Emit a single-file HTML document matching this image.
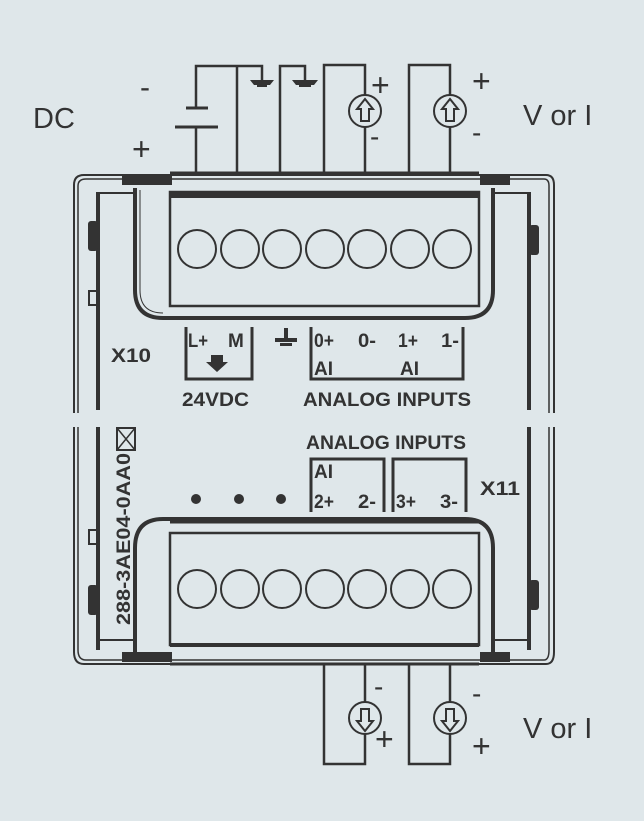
<!DOCTYPE html>
<html><head><style>
html,body{margin:0;padding:0;background:#dfe7ea;}
svg{display:block}
.t{font-family:"Liberation Sans",sans-serif;fill:#333;}
.b{font-family:"Liberation Sans",sans-serif;font-weight:bold;fill:#333;}
</style></head><body>
<svg width="644" height="821" viewBox="0 0 644 821" xmlns="http://www.w3.org/2000/svg">
<rect width="644" height="821" fill="#dfe7ea"/>
<g stroke="#333" fill="none" stroke-width="2.5">
<polyline points="196,108 196,66 262,66 262,82"/>
<line x1="237" y1="66" x2="237" y2="173"/>
<line x1="196" y1="127" x2="196" y2="173"/>
<polyline points="280,173 280,66 305,66 305,82"/>
<polyline points="324,173 324,65 365,65 365,95"/>
<line x1="365" y1="127" x2="365" y2="173"/>
<polyline points="409,173 409,65 450,65 450,95"/>
<line x1="450" y1="127" x2="450" y2="173"/>
<line x1="186" y1="108" x2="208" y2="108" stroke-width="3"/>
<line x1="175" y1="127" x2="218" y2="127" stroke-width="3"/>
<circle cx="365" cy="111" r="16" stroke-width="2"/>
<circle cx="450" cy="111" r="16" stroke-width="2"/>
<polyline points="324,665 324,764 365,764 365,734"/>
<line x1="365" y1="702" x2="365" y2="665"/>
<polyline points="409,665 409,764 450,764 450,734"/>
<line x1="450" y1="702" x2="450" y2="665"/>
<circle cx="365" cy="718" r="16" stroke-width="2"/>
<circle cx="450" cy="718" r="16" stroke-width="2"/>
</g>
<g fill="#333">
<path d="M250,80 h24 l-4,5 h-16z"/><rect x="257" y="84" width="10" height="3"/>
<path d="M292,80 h26 l-4,5 h-18z"/><rect x="299" y="84" width="12" height="3"/>
</g>
<g fill="#dfe7ea" stroke="#333" stroke-width="2">
<path d="M365,99 l-8,10 h4 v12 h8 v-12 h4z"/>
<path d="M450,99 l-8,10 h4 v12 h8 v-12 h4z"/>
<path d="M365,731 l-8,-10 h4 v-12 h8 v12 h4z"/>
<path d="M450,731 l-8,-10 h4 v-12 h8 v12 h4z"/>
</g>
<g class="t">
<text x="33" y="128" font-size="29">DC</text>
<text x="140" y="97" font-size="30">-</text>
<text x="132" y="160" font-size="32">+</text>
<text x="371" y="96" font-size="32">+</text>
<text x="370" y="146" font-size="28">-</text>
<text x="472" y="92" font-size="32">+</text>
<text x="472" y="142" font-size="28">-</text>
<text x="523" y="125" font-size="29">V or I</text>
<text x="374" y="696" font-size="28">-</text>
<text x="375" y="750" font-size="32">+</text>
<text x="472" y="703" font-size="28">-</text>
<text x="472" y="757" font-size="32">+</text>
<text x="523" y="738" font-size="29">V or I</text>
</g>
<g stroke="#333" fill="none">
<path d="M74,413 V185 Q74,175 84,175 H546 Q554,175 554,185 V413" stroke-width="2"/>
<path d="M78,413 V186 Q78,179 86,179 H544 Q549,179 549,186 V413" stroke-width="1.5"/>
<path d="M74,427 V652 Q74,664 84,664 H546 Q554,664 554,652 V427" stroke-width="2"/>
<path d="M78,427 V650 Q78,660 86,660 H544 Q549,660 549,650 V427" stroke-width="1.5"/>
<line x1="98" y1="192" x2="98" y2="410" stroke-width="4"/>
<line x1="98" y1="427" x2="98" y2="650" stroke-width="4"/>
<line x1="529" y1="192" x2="529" y2="410" stroke-width="4"/>
<line x1="529" y1="427" x2="529" y2="650" stroke-width="4"/>
<line x1="98" y1="193" x2="135" y2="193" stroke-width="2"/>
<line x1="493" y1="193" x2="529" y2="193" stroke-width="2"/>
<line x1="98" y1="640" x2="135" y2="640" stroke-width="2"/>
<line x1="493" y1="640" x2="529" y2="640" stroke-width="2"/>
<rect x="89" y="291" width="9" height="14" stroke-width="2"/>
<rect x="89" y="530" width="9" height="14" stroke-width="2"/>
<path d="M135,188 V290 Q135,318 163,318 H465 Q493,318 493,290 V188" stroke-width="4"/>
<path d="M140,190 V290 Q140,313 163,313" stroke-width="1"/>
<rect x="170" y="192" width="309" height="114" stroke-width="2.5"/>
<line x1="170" y1="195" x2="479" y2="195" stroke-width="6"/>
<line x1="170" y1="173" x2="479" y2="173" stroke-width="3"/>
<path d="M135,655 V548 Q135,519 163,519 H465 Q493,519 493,548 V655" stroke-width="4"/>
<rect x="170" y="533" width="309" height="112" stroke-width="2.5"/>
<line x1="170" y1="522" x2="479" y2="522" stroke-width="3"/>
<line x1="170" y1="645" x2="479" y2="645" stroke-width="4"/>
<line x1="170" y1="664" x2="479" y2="664" stroke-width="3"/>
<g stroke-width="2">
<circle cx="197" cy="249" r="19"/><circle cx="240" cy="249" r="19"/><circle cx="282" cy="249" r="19"/><circle cx="325" cy="249" r="19"/><circle cx="367" cy="249" r="19"/><circle cx="410" cy="249" r="19"/><circle cx="452" cy="249" r="19"/>
<circle cx="197" cy="589" r="19"/><circle cx="240" cy="589" r="19"/><circle cx="282" cy="589" r="19"/><circle cx="325" cy="589" r="19"/><circle cx="367" cy="589" r="19"/><circle cx="410" cy="589" r="19"/><circle cx="452" cy="589" r="19"/>
</g>
<polyline points="186,327 186,379 252,379 252,327" stroke-width="3"/>
<polyline points="311,327 311,379 463,379 463,327" stroke-width="3"/>
<polyline points="311,512 311,459 384,459 384,512" stroke-width="3"/>
<polyline points="393,512 393,459 466,459 466,512" stroke-width="3"/>
<rect x="117" y="428" width="18" height="22" stroke-width="2"/>
<path d="M117,428 L135,450 M117,450 L135,428" stroke-width="1.5"/>
</g>
<g fill="#333">
<rect x="88" y="221" width="10" height="30" rx="3"/>
<rect x="88" y="585" width="10" height="30" rx="3"/>
<rect x="529" y="225" width="10" height="30" rx="3"/>
<rect x="529" y="580" width="10" height="30" rx="3"/>
<rect x="122" y="175" width="50" height="10"/>
<rect x="480" y="175" width="30" height="10"/>
<rect x="122" y="652" width="50" height="10"/>
<rect x="480" y="652" width="30" height="10"/>
<path d="M211,355 h12 v7 h5 l-11,10 l-11,-10 h5z"/>
<rect x="275" y="338" width="22" height="4"/><rect x="284" y="328" width="4" height="12"/><rect x="280" y="343" width="12" height="3"/>
<circle cx="196" cy="499" r="5"/><circle cx="239" cy="499" r="5"/><circle cx="281" cy="499" r="5"/>
</g>
<g class="b" font-size="19">
<text x="111" y="362" textLength="40" lengthAdjust="spacingAndGlyphs">X10</text>
<text x="480" y="495" textLength="40" lengthAdjust="spacingAndGlyphs">X11</text>
<text x="188" y="347" textLength="20" lengthAdjust="spacingAndGlyphs">L+</text><text x="228" y="347">M</text>
<text x="182" y="406" textLength="67" lengthAdjust="spacingAndGlyphs">24VDC</text>
<text x="314" y="347" textLength="20" lengthAdjust="spacingAndGlyphs">0+</text><text x="358" y="347" textLength="18" lengthAdjust="spacingAndGlyphs">0-</text><text x="398" y="347" textLength="20" lengthAdjust="spacingAndGlyphs">1+</text><text x="441" y="347" textLength="18" lengthAdjust="spacingAndGlyphs">1-</text>
<text x="314" y="375">AI</text><text x="400" y="375">AI</text>
<text x="303" y="406" textLength="168" lengthAdjust="spacingAndGlyphs">ANALOG  INPUTS</text>
<text x="306" y="449" textLength="160" lengthAdjust="spacingAndGlyphs">ANALOG INPUTS</text>
<text x="314" y="478">AI</text>
<text x="314" y="508" textLength="20" lengthAdjust="spacingAndGlyphs">2+</text><text x="358" y="508" textLength="18" lengthAdjust="spacingAndGlyphs">2-</text>
<text x="396" y="508" textLength="20" lengthAdjust="spacingAndGlyphs">3+</text><text x="440" y="508" textLength="18" lengthAdjust="spacingAndGlyphs">3-</text>
<text transform="translate(130,625) rotate(-90)" font-size="19" textLength="172" lengthAdjust="spacingAndGlyphs">288-3AE04-0AA0</text>
</g>
</svg>
</body></html>
